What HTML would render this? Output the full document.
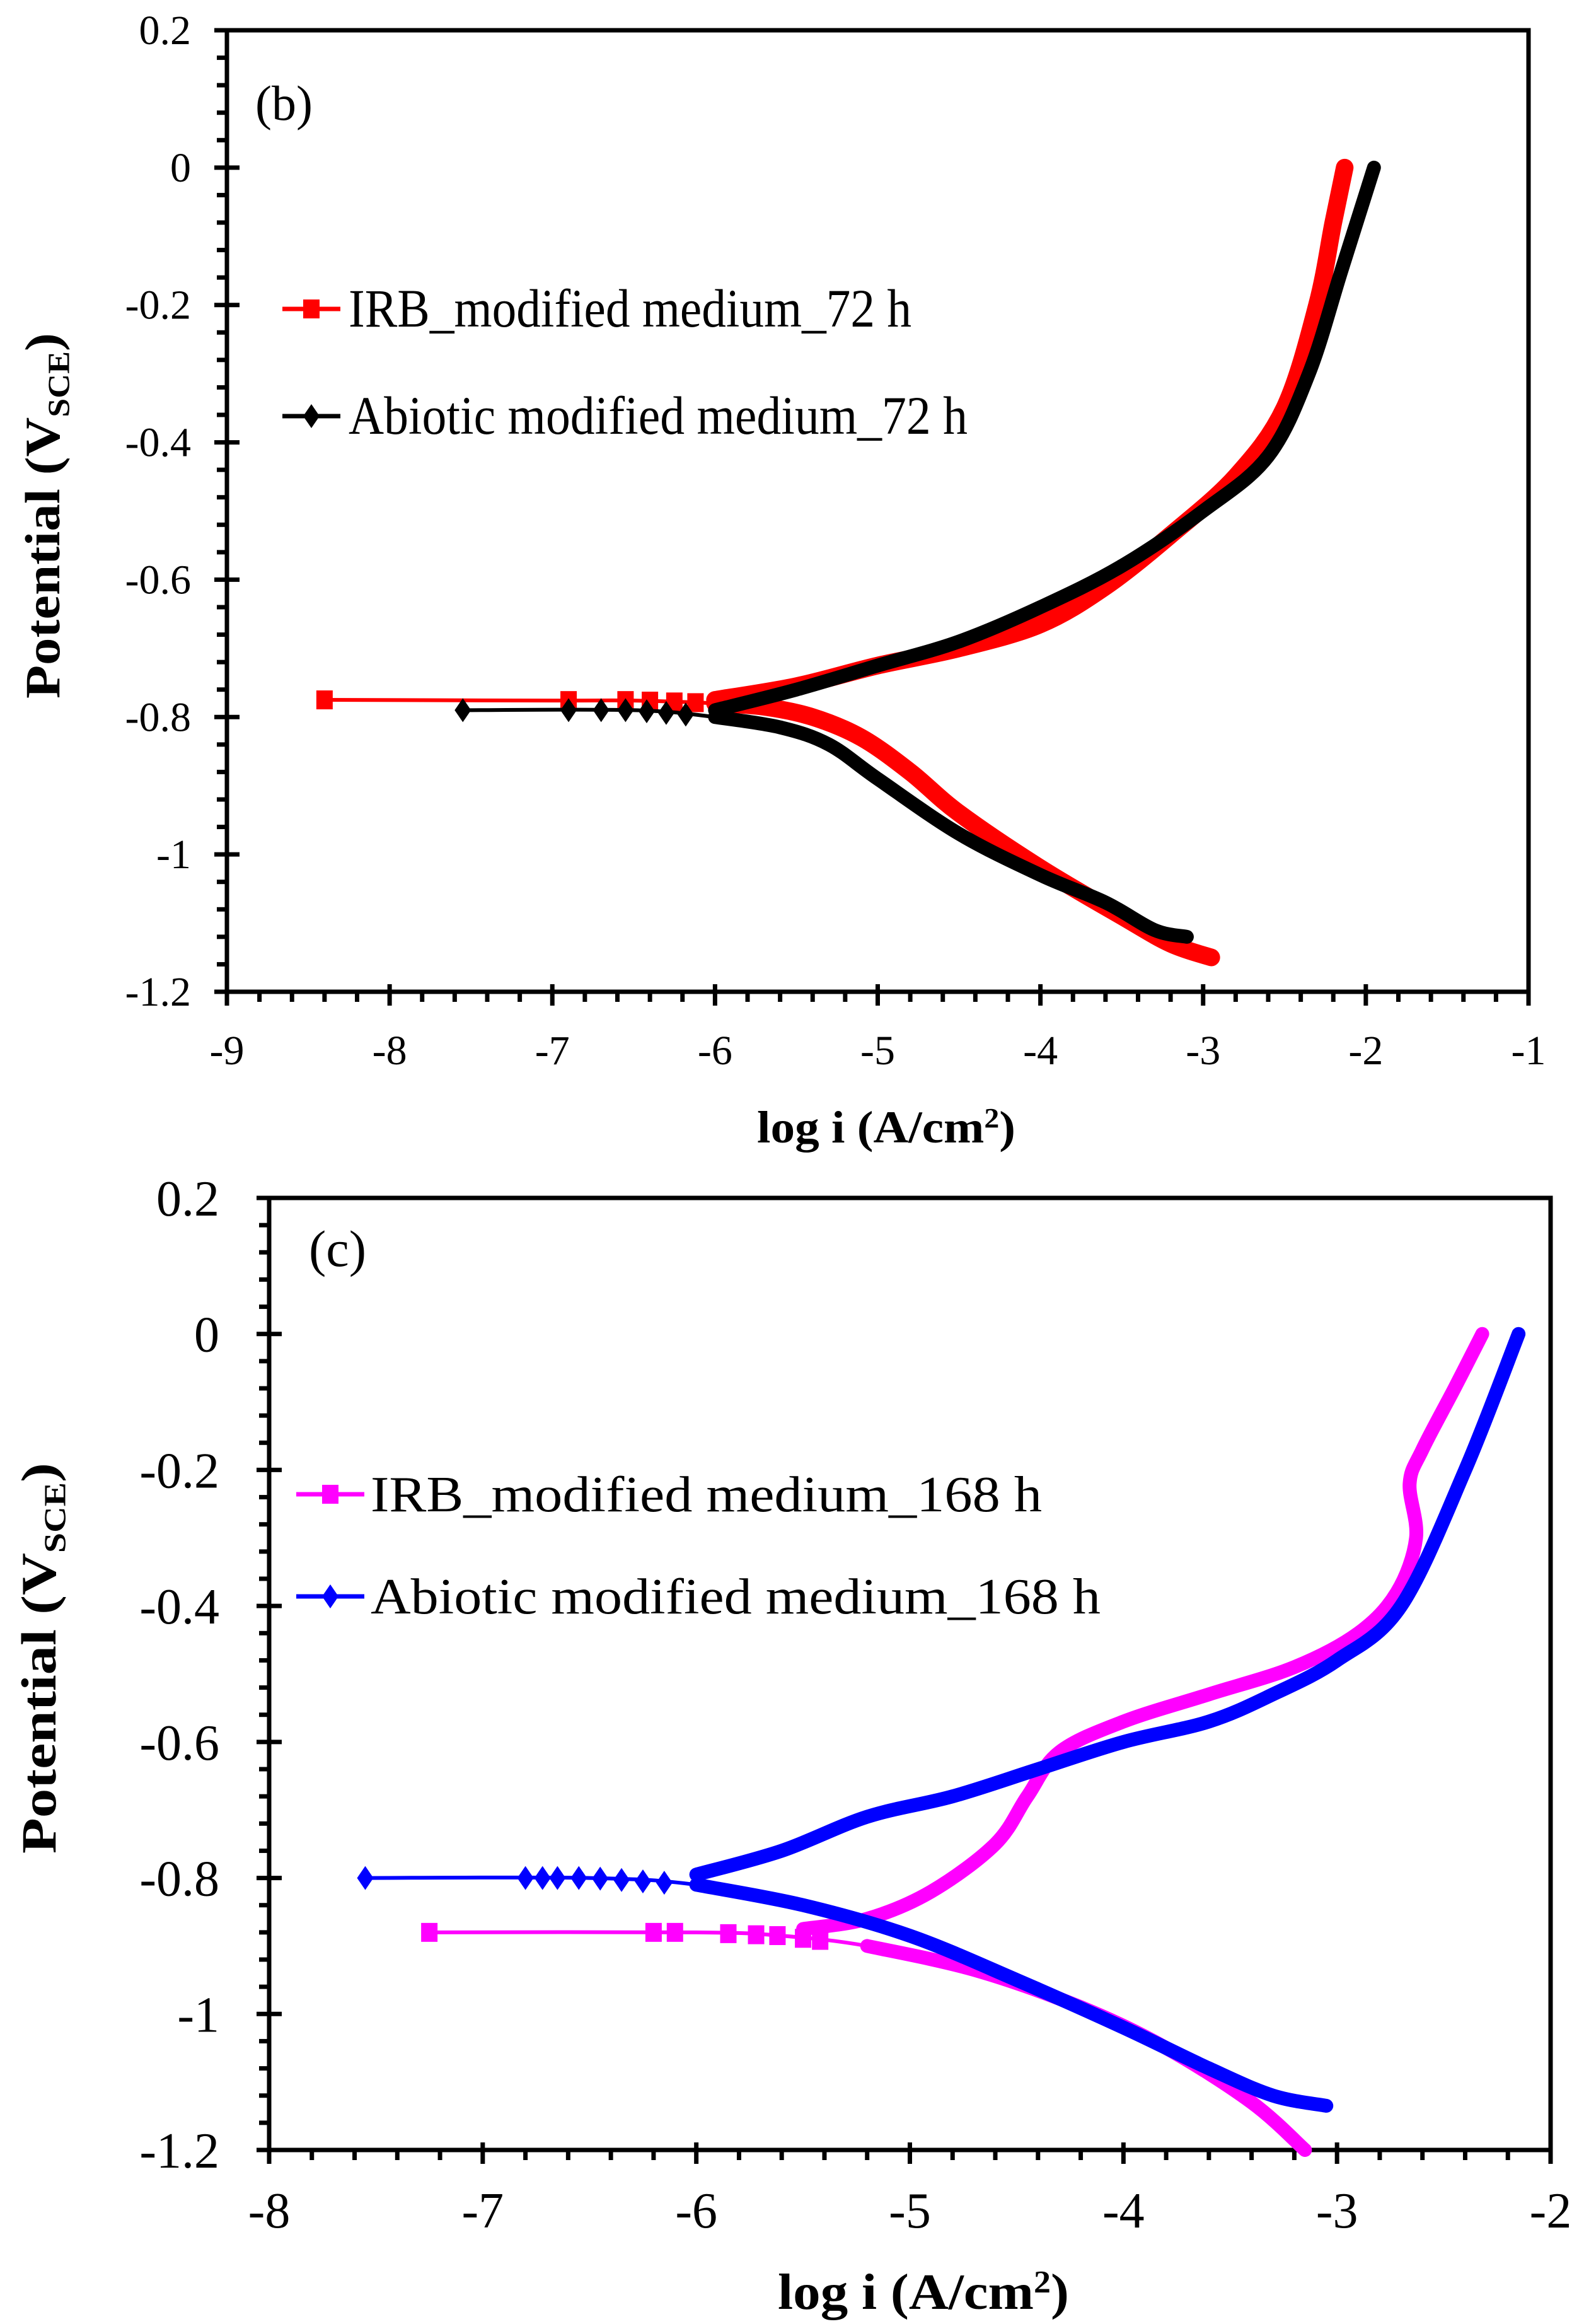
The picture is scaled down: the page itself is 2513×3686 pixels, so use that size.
<!DOCTYPE html>
<html><head><meta charset="utf-8"><style>
html,body{margin:0;padding:0;background:#fff;}
svg{display:block;}
text{font-family:"Liberation Serif",serif;fill:#000;}
</style></head><body>
<svg id="fig" width="2513" height="3686" viewBox="0 0 2513 3686" xmlns="http://www.w3.org/2000/svg">
<g id="chartB"></g>
<g id="chartC"></g>
</svg>
<script>
// ---- Chart (b) data ----
const bXTicks = [-9,-8,-7,-6,-5,-4,-3,-2,-1];
const bYTicks = [0.2,0,-0.2,-0.4,-0.6,-0.8,-1,-1.2];
const bYTickLabels = ["0.2","0","-0.2","-0.4","-0.6","-0.8","-1","-1.2"];
const bRedX = [-2.95,-3.2,-3.5,-4.0,-4.5,-4.8,-5.1,-5.4,-5.7,-6.0,-6.5,-7.0,-8.4];
const bRedY = [-1.15,-1.13,-1.09,-1.02,-0.94,-0.88,-0.83,-0.80,-0.785,-0.78,-0.776,-0.776,-0.775];
const bRedAX = [-6.0,-5.5,-5.0,-4.5,-4.0,-3.6,-3.2,-2.8,-2.5,-2.3,-2.2,-2.13];
const bRedAY = [-0.775,-0.755,-0.725,-0.70,-0.665,-0.61,-0.535,-0.45,-0.35,-0.2,-0.08,0];
const bRedMarkX = [-8.4,-6.9,-6.55,-6.4,-6.25,-6.12];
const bBlkX = [-3.1,-3.3,-3.6,-4.0,-4.5,-5.0,-5.3,-5.6,-6.0,-6.5,-7.55];
const bBlkY = [-1.12,-1.11,-1.07,-1.03,-0.97,-0.89,-0.84,-0.815,-0.80,-0.79,-0.79];
const bBlkAX = [-6.0,-5.5,-5.0,-4.5,-4.0,-3.5,-3.0,-2.6,-2.35,-2.15,-1.95];
const bBlkAY = [-0.79,-0.76,-0.725,-0.69,-0.64,-0.58,-0.50,-0.42,-0.3,-0.15,0];
const bBlkMarkX = [-7.55,-6.9,-6.7,-6.55,-6.42,-6.3,-6.18];

// ---- Chart (c) data ----
const cXTicks = [-8,-7,-6,-5,-4,-3,-2];
const cYTicks = [0.2,0,-0.2,-0.4,-0.6,-0.8,-1,-1.2];
const cYTickLabels = ["0.2","0","-0.2","-0.4","-0.6","-0.8","-1","-1.2"];
const cMagX = [-3.15,-3.4,-3.8,-4.2,-4.7,-5.2,-5.6,-6.0,-7.25];
const cMagY = [-1.2,-1.13,-1.05,-0.99,-0.935,-0.9,-0.885,-0.88,-0.88];
const cMagAX = [-5.5,-5.2,-4.9,-4.6,-4.45,-4.3,-4.0,-3.6,-3.2,-2.9,-2.72,-2.63,-2.66,-2.6,-2.45,-2.32];
const cMagAY = [-0.875,-0.86,-0.82,-0.75,-0.68,-0.615,-0.57,-0.53,-0.49,-0.44,-0.38,-0.3,-0.22,-0.17,-0.08,0];
const cMagMarkX = [-7.25,-6.2,-6.1,-5.85,-5.72,-5.62,-5.5,-5.42];
const cBluX = [-3.05,-3.3,-3.6,-4.0,-4.5,-5.0,-5.5,-6.0,-6.5,-7.55];
const cBluY = [-1.135,-1.12,-1.08,-1.02,-0.95,-0.885,-0.84,-0.81,-0.80,-0.80];
const cBluAX = [-6.0,-5.6,-5.2,-4.8,-4.4,-4.0,-3.6,-3.3,-3.0,-2.7,-2.4,-2.15];
const cBluAY = [-0.795,-0.76,-0.71,-0.68,-0.64,-0.6,-0.57,-0.53,-0.48,-0.4,-0.2,0];
const cBluMarkX = [-7.55,-6.8,-6.72,-6.65,-6.55,-6.45,-6.35,-6.25,-6.15];

const NS = "http://www.w3.org/2000/svg";
function mk(parent, tag, attrs, txt){
  const e = document.createElementNS(NS, tag);
  for (const k in attrs) e.setAttribute(k, attrs[k]);
  if (txt !== undefined) e.textContent = txt;
  parent.appendChild(e);
  return e;
}
function smooth(P){
  if (P.length<2) return '';
  let d = 'M'+P[0][0]+','+P[0][1];
  for (let i=0;i<P.length-1;i++){
    const p0=P[Math.max(0,i-1)], p1=P[i], p2=P[i+1], p3=P[Math.min(P.length-1,i+2)];
    const c1=[p1[0]+(p2[0]-p0[0])/6, p1[1]+(p2[1]-p0[1])/6];
    const c2=[p2[0]-(p3[0]-p1[0])/6, p2[1]-(p3[1]-p1[1])/6];
    d += ` C${c1[0]},${c1[1]} ${c2[0]},${c2[1]} ${p2[0]},${p2[1]}`;
  }
  return d;
}
function interpY(xs, ys, x){
  let best = ys[0], bd = 1e9;
  for (let i=0;i<xs.length-1;i++){
    const a=xs[i], b=xs[i+1];
    if ((x-a)*(x-b) <= 0 && a!==b){ const t=(x-a)/(b-a); return ys[i]+t*(ys[i+1]-ys[i]); }
    const d=Math.abs(xs[i]-x); if (d<bd){bd=d;best=ys[i];}
  }
  return best;
}

function drawChart(g, cfg){
  const X = v => cfg.L + (v - cfg.xmin)/(cfg.xmax-cfg.xmin)*(cfg.R-cfg.L);
  const Y = v => cfg.T + (cfg.ymax - v)/(cfg.ymax-cfg.ymin)*(cfg.B-cfg.T);
  const fr = mk(g,'rect',{x:cfg.L,y:cfg.T,width:cfg.R-cfg.L,height:cfg.B-cfg.T,fill:'none',stroke:'#000','stroke-width':cfg.frameW});
  
  
  const ticks = mk(g,'g',{stroke:'#000','stroke-width':7});
  
  
  const xs = cfg.xTicks, ys = cfg.yTicks;
  for (let i=0;i<xs.length;i++){
    const x = X(xs[i]);
    mk(ticks,'line',{x1:x,x2:x,y1:cfg.B-12,y2:cfg.B+22});
    if (i<xs.length-1) for (let k=1;k<5;k++){ const xm = X(xs[i]+(xs[i+1]-xs[i])*k/5); mk(ticks,'line',{x1:xm,x2:xm,y1:cfg.B,y2:cfg.B+16}); }
    const t = mk(g,'text',{x:x,y:cfg.xLabY,'text-anchor':'middle','font-size':cfg.tickFs}, String(xs[i]));
    
    
  }
  for (let i=0;i<ys.length;i++){
    const y = Y(ys[i]);
    mk(ticks,'line',{x1:cfg.L-20,x2:cfg.L+20,y1:y,y2:y});
    if (i<ys.length-1) for (let k=1;k<5;k++){ const ym = Y(ys[i]+(ys[i+1]-ys[i])*k/5); mk(ticks,'line',{x1:cfg.L-16,x2:cfg.L,y1:ym,y2:ym}); }
    const t = mk(g,'text',{x:cfg.yLabX,y:y+cfg.yLabDy,'text-anchor':'end','font-size':cfg.tickFs}, cfg.yLabels[i]);
    
    
  }
  cfg.series.forEach(s=>{
    const sg = mk(g,'g',{});
    
    
    mk(sg,'path',{d:smooth(s.cx.map((v,i)=>[X(v),Y(s.cy[i])])),fill:'none',stroke:s.color,'stroke-width':6,'stroke-linejoin':'round'});
    let tp=[];
    s.cx.forEach((v,i)=>{ if (v>=s.thick) tp.push([X(v),Y(s.cy[i])]); });
    mk(sg,'path',{d:smooth(tp),fill:'none',stroke:s.color,'stroke-width':s.w,'stroke-linejoin':'round','stroke-linecap':'round'});
    mk(sg,'path',{d:smooth(s.ax.map((v,i)=>[X(v),Y(s.ay[i])])),fill:'none',stroke:s.color,'stroke-width':s.w,'stroke-linejoin':'round','stroke-linecap':'round'});
    s.mx.forEach(v=>{
      const cx = X(v), cy = Y(interpY(s.cx, s.cy, v));
      let m;
      if (s.marker==='square') m = mk(sg,'rect',{x:cx-13,y:cy-15,width:26,height:30,fill:s.color});
      else m = mk(sg,'polygon',{points:`${cx},${cy-19} ${cx+13},${cy} ${cx},${cy+19} ${cx-13},${cy}`,fill:s.color});
      
      
    });
  });
  cfg.legend.forEach(l=>{
    const lg = mk(g,'g',{});
    
    
    mk(lg,'line',{x1:l.x1,x2:l.x2,y1:l.y,y2:l.y,stroke:l.color,'stroke-width':7});
    if (l.marker==='square') mk(lg,'rect',{x:(l.x1+l.x2)/2-13,y:l.y-15,width:26,height:30,fill:l.color});
    else { const c=(l.x1+l.x2)/2; mk(lg,'polygon',{points:`${c},${l.y-19} ${c+13},${l.y} ${c},${l.y+19} ${c-13},${l.y}`,fill:l.color}); }
    mk(lg,'text',{x:l.tx,y:l.y+l.dy,'font-size':l.fs,textLength:l.tw,lengthAdjust:'spacingAndGlyphs'}, l.text);
  });
  const pl = mk(g,'text',{x:cfg.panel.x,y:cfg.panel.y,'font-size':cfg.panel.fs}, cfg.panel.text);
  
  
  const xt = mk(g,'text',{x:cfg.xt.x,y:cfg.xt.y,'text-anchor':'middle','font-size':cfg.xt.fs,'font-weight':'bold',textLength:cfg.xt.w,lengthAdjust:'spacingAndGlyphs'});
  
  
  xt.appendChild(document.createTextNode('log i (A/cm'));
  mk(xt,'tspan',{'font-size':cfg.xt.fs*0.62,dy:-cfg.xt.fs*0.33},'2');
  mk(xt,'tspan',{dy:cfg.xt.fs*0.33},')');
  const yt = mk(g,'text',{x:0,y:0,'text-anchor':'middle','font-size':cfg.yt.fs,'font-weight':'bold',transform:`translate(${cfg.yt.x},${cfg.yt.y}) rotate(-90)`,textLength:cfg.yt.w,lengthAdjust:'spacingAndGlyphs'});
  
  
  yt.appendChild(document.createTextNode('Potential (V'));
  mk(yt,'tspan',{'font-size':cfg.yt.fs*0.62,dy:cfg.yt.fs*0.2},'SCE');
  mk(yt,'tspan',{dy:-cfg.yt.fs*0.2},')');
}

drawChart(document.getElementById('chartB'), {
  L:360,R:2425,T:48,B:1573,xmin:-9,xmax:-1,ymin:-1.2,ymax:0.2,frameW:7,
  xTicks:bXTicks,yTicks:bYTicks,yLabels:bYTickLabels,tickFs:66,xLabY:1688,yLabX:303,yLabDy:22,
  series:[
    {name:'series-irb-72h',color:'#ff0000',cx:bRedX,cy:bRedY,ax:bRedAX,ay:bRedAY,mx:bRedMarkX,marker:'square',thick:-6.1,w:28},
    {name:'series-abiotic-72h',color:'#000000',cx:bBlkX,cy:bBlkY,ax:bBlkAX,ay:bBlkAY,mx:bBlkMarkX,marker:'diamond',thick:-6.1,w:22}
  ],
  legend:[
    {x1:448,x2:540,y:490,color:'#ff0000',marker:'square',tx:553,dy:28,fs:86,tw:893,text:'IRB_modified medium_72 h'},
    {x1:448,x2:540,y:660,color:'#000000',marker:'diamond',tx:553,dy:28,fs:86,tw:982,text:'Abiotic modified medium_72 h'}
  ],
  panel:{x:405,y:190,fs:78,text:'(b)'},
  xt:{x:1406,y:1812,fs:72,w:410},
  yt:{x:94,y:818,fs:78,w:580}
});

drawChart(document.getElementById('chartC'), {
  L:427,R:2460,T:1900,B:3410,xmin:-8,xmax:-2,ymin:-1.2,ymax:0.2,frameW:7,
  xTicks:cXTicks,yTicks:cYTicks,yLabels:cYTickLabels,tickFs:80,xLabY:3533,yLabX:348,yLabDy:28,
  series:[
    {name:'series-irb-168h',color:'#ff00ff',cx:cMagX,cy:cMagY,ax:cMagAX,ay:cMagAY,mx:cMagMarkX,marker:'square',thick:-5.5,w:22},
    {name:'series-abiotic-168h',color:'#0000ff',cx:cBluX,cy:cBluY,ax:cBluAX,ay:cBluAY,mx:cBluMarkX,marker:'diamond',thick:-6.1,w:22}
  ],
  legend:[
    {x1:470,x2:578,y:2370,color:'#ff00ff',marker:'square',tx:588,dy:27,fs:80,tw:1065,text:'IRB_modified medium_168 h'},
    {x1:470,x2:578,y:2532,color:'#0000ff',marker:'diamond',tx:588,dy:27,fs:80,tw:1158,text:'Abiotic modified medium_168 h'}
  ],
  panel:{x:490,y:2008,fs:82,text:'(c)'},
  xt:{x:1465,y:3662,fs:80,w:462},
  yt:{x:88,y:2630,fs:78,w:620}
});
</script>
</body></html>
